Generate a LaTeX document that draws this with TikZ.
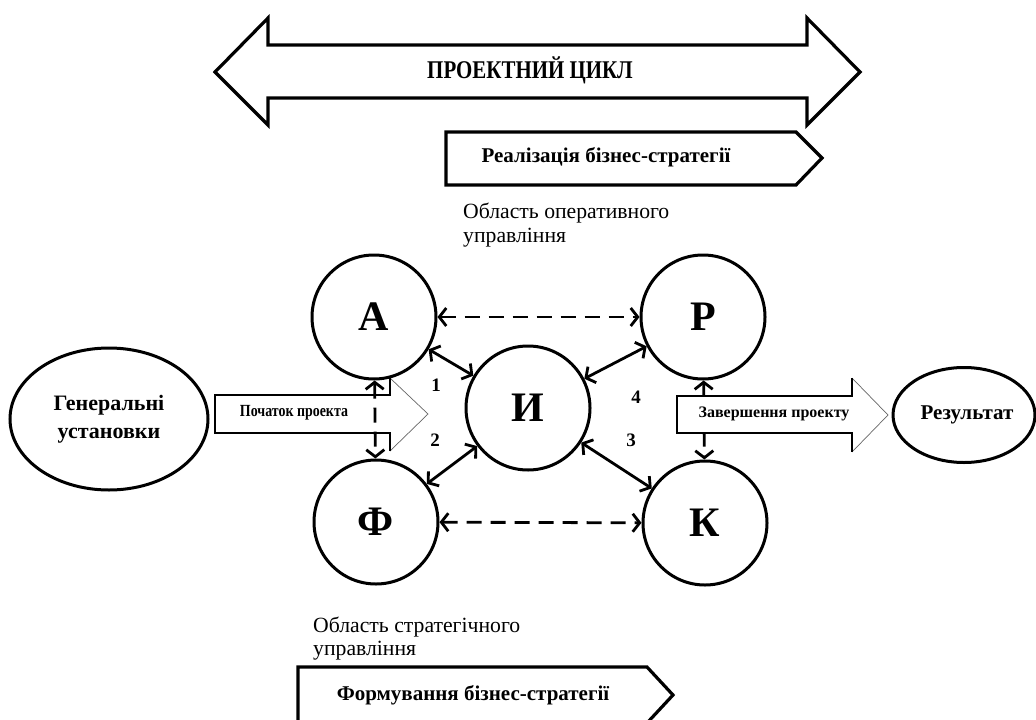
\documentclass[tikz,border=0pt]{standalone}
\usepackage{fontspec}
\setmainfont{Liberation Serif}
\newfontfamily\condfont[FakeStretch=0.82]{Liberation Serif}
\usetikzlibrary{arrows.meta,shapes.geometric}
\begin{document}
\begin{tikzpicture}[x=1pt,y=-1pt,
  circ/.style={circle,draw,line width=3pt,minimum size=124pt,inner sep=0pt,
    font=\fontsize{42}{42}\selectfont\bfseries},
  conn/.style={line width=2.8pt,
    {Straight Barb[length=7pt,width=18pt]}-{Straight Barb[length=7pt,width=18pt]}},
  dconn/.style={conn,dash pattern=on 15pt off 9pt},
  oval/.style={ellipse,draw,line width=3pt,inner sep=0pt,align=center},
  blk/.style={draw,fill=white,line width=3.2pt,line join=miter},
  lbl/.style={font=\fontsize{21}{28}\selectfont\bfseries},
  small/.style={font=\fontsize{16}{16}\selectfont\bfseries},
  area/.style={font=\fontsize{21.7}{25}\selectfont,anchor=base west,inner sep=0pt},
  num/.style={font=\fontsize{19}{19}\selectfont\bfseries},
  thinhead/.style={draw=black!60,line width=0.7pt}
]
\useasboundingbox (0,0) rectangle (1036,720);
\clip (0,0) rectangle (1036,720);
\fill[white] (0,0) rectangle (1036,720);

% big double arrow
\draw[blk] (215,72) -- (268,18) -- (268,45) -- (807,45) -- (807,18) -- (860,72)
  -- (807,125) -- (807,98) -- (268,98) -- (268,125) -- cycle;
\node[font=\condfont\bfseries\fontsize{25.5}{25.5}\selectfont] (title) at (530,70) {ПРОЕКТНИЙ ЦИКЛ};

% top pentagon
\draw[blk] (446,132) -- (796,132) -- (822,158) -- (796,185) -- (446,185) -- cycle;
\node[lbl] (real) at (606,157) {Реалізація бізнес-стратегії};

\node[area] (oper1) at (463,218) {Область оперативного};
\node[area] (oper2) at (463,242) {управління};

% circles
\node[circ] (A) at (374,317) {\raisebox{-4pt}{А}};
\node[circ] (P) at (703,317) {\raisebox{-3pt}{Р}};
\node[circ] (F) at (376,522) {Ф};
\node[circ] (K) at (705,523) {К};
\node[circ] (I) at (528,408) {\raisebox{-11pt}{И}};

% ellipses
\node[oval,minimum width=198pt,minimum height=142pt,lbl,font=\fontsize{22}{28}\selectfont\bfseries] (gen) at (109,419) {Генеральні\\установки};
\node[oval,minimum width=142pt,minimum height=95pt,lbl] (res) at (964,415) {\hspace{6pt}Результат};

% connectors
\draw[dconn] (A) -- (P);
\draw[dconn] (F) -- (K);
\draw[conn] (A) -- (I);
\draw[conn] (F) -- (I);
\draw[conn] (P) -- (I);
\draw[conn] (K) -- (I);
\draw[dconn] (P) -- (K);

% start arrow
\fill[white] (215,395) -- (390,395) -- (390,378) -- (428,414) -- (390,451) -- (390,433) -- (215,433) -- cycle;
\draw[thinhead] (390,378) -- (428,414) -- (390,451);
\draw[line width=1.8pt,line join=miter] (390,378) -- (390,395) -- (215,395) -- (215,433) -- (390,433) -- (390,451);
\node[font=\condfont\bfseries\fontsize{17}{17}\selectfont] (start) at (294,413) {Початок проекта};
\draw[dconn] (A) -- (F);

% end arrow
\fill[white] (677,396) -- (852,396) -- (852,378) -- (888,415) -- (852,452) -- (852,433) -- (677,433) -- cycle;
\draw[thinhead] (852,378) -- (888,415) -- (852,452);
\draw[line width=1.8pt,line join=miter] (852,378) -- (852,396) -- (677,396) -- (677,433) -- (852,433) -- (852,452);
\node[small] (finish) at (774,414) {Завершення проекту};

% numbers
\node[num] (n1) at (436,385) {1};
\node[num] (n2) at (435,440) {2};
\node[num] (n4) at (636,397) {4};
\node[num] (n3) at (631,440) {3};

% bottom area
\node[area] (strat1) at (313,632) {Область стратегічного};
\node[area] (strat2) at (313,655) {управління};
\draw[blk] (298,667) -- (647,667) -- (673,695) -- (647,723) -- (298,723) -- cycle;
\node[lbl] (form) at (473,695) {Формування бізнес-стратегії};
\end{tikzpicture}
\end{document}
